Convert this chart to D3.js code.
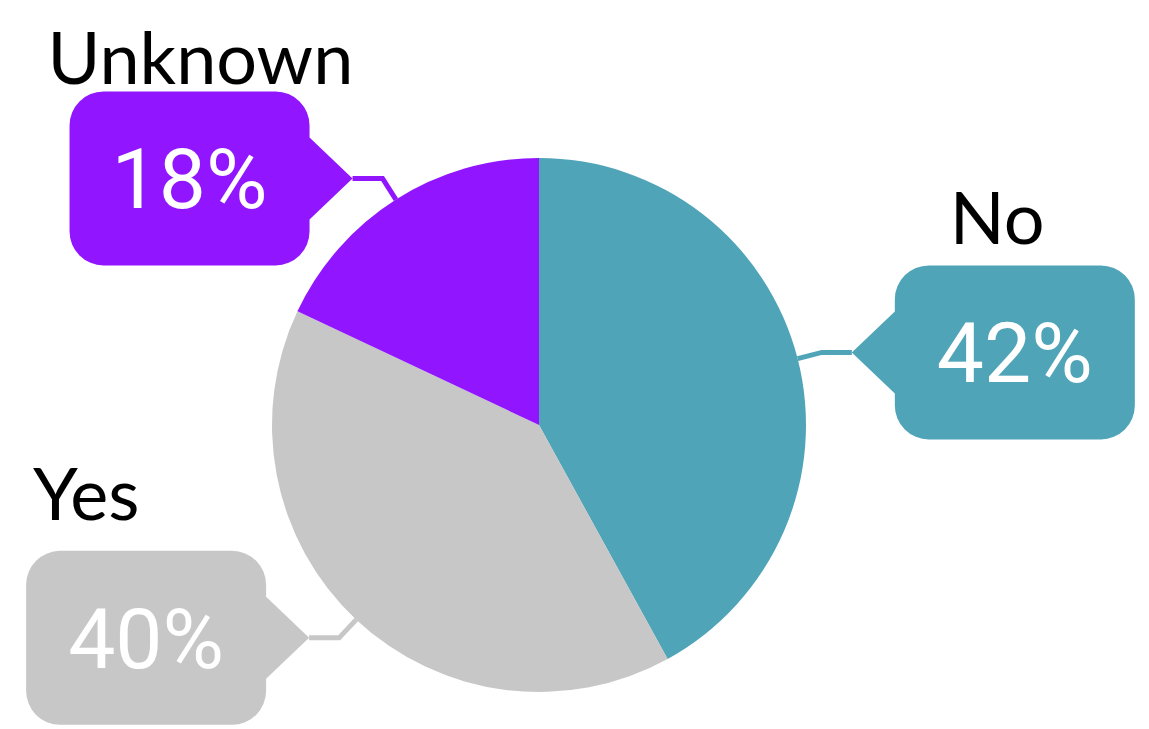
<!DOCTYPE html>
<html>
<head>
<meta charset="utf-8">
<script src="https://cdn.jsdelivr.net/npm/d3@7"></script>
<style>
  html, body { margin: 0; padding: 0; background: #fff; }
  svg { display: block; }
</style>
</head>
<body>
<svg id="chart" width="1149" height="729"></svg>
<script>
// Survey answers, shares in percent
const categories = ["No", "Yes", "Unknown"];
const shares = [42, 40, 18];
const colors = ["#50A4B8", "#C7C7C7", "#9116FF"];

const W = 1149, H = 729;
const cx = 539, cy = 425, R = 267;

// callout layout (box size, pointer, label text offsets)
const boxW = 240, boxH = 174, corner = 34, ptrDepth = 43, ptrHalf = 41;
const elbowOut = 25, tipGap = 30;
const labelOffset = {               // relative to box left / top
  "No":      { dx: 55, dy: -21 },
  "Yes":     { dx: 7,  dy: -31 },
  "Unknown": { dx: -22, dy: -7 }
};

const svg = d3.select("#chart");
const g = svg.append("g").attr("transform", `translate(${cx},${cy})`);

const data = categories.map((c, i) => ({ name: c, value: shares[i], color: colors[i] }));

const pie = d3.pie().value(d => d.value).sort(null);
const arcs = pie(data);
const arc = d3.arc().innerRadius(0).outerRadius(R);

g.selectAll("path.slice")
  .data(arcs)
  .join("path")
  .attr("class", "slice")
  .attr("d", arc)
  .attr("fill", d => d.data.color);

// point at radius r along the slice's middle angle
function polar(a, r) {
  return [r * Math.sin(a), -r * Math.cos(a)];
}

// rounded box with a triangular pointer on one side
function calloutPath(x, y, w, h, r, side) {
  const my = y + h / 2;
  const p = d3.path();
  p.moveTo(x + r, y);
  p.lineTo(x + w - r, y);
  p.arcTo(x + w, y, x + w, y + r, r);
  if (side === "right") {
    p.lineTo(x + w, my - ptrHalf);
    p.lineTo(x + w + ptrDepth, my);
    p.lineTo(x + w, my + ptrHalf);
  }
  p.lineTo(x + w, y + h - r);
  p.arcTo(x + w, y + h, x + w - r, y + h, r);
  p.lineTo(x + r, y + h);
  p.arcTo(x, y + h, x, y + h - r, r);
  if (side === "left") {
    p.lineTo(x, my + ptrHalf);
    p.lineTo(x - ptrDepth, my);
    p.lineTo(x, my - ptrHalf);
  }
  p.lineTo(x, y + r);
  p.arcTo(x, y, x + r, y, r);
  p.closePath();
  return p.toString();
}

const callouts = svg.append("g");

arcs.forEach(a => {
  const mid = (a.startAngle + a.endAngle) / 2;
  const [ex, ey] = polar(mid, R);
  const [bx, by] = polar(mid, R + elbowOut);
  const onRight = Math.sin(mid) > 0;
  const e = [cx + ex, cy + ey];
  const b = [cx + bx, cy + by];
  const tipX = b[0] + (onRight ? tipGap : -tipGap);
  const tip = [tipX, b[1]];

  callouts.append("path")
    .attr("d", d3.line()([e, b, tip]))
    .attr("fill", "none")
    .attr("stroke", a.data.color)
    .attr("stroke-width", 5);

  const boxX = onRight ? tipX + ptrDepth : tipX - ptrDepth - boxW;
  const boxY = b[1] - boxH / 2;

  callouts.append("path")
    .attr("d", calloutPath(boxX, boxY, boxW, boxH, corner, onRight ? "left" : "right"))
    .attr("fill", a.data.color);

  callouts.append("text")
    .attr("x", boxX + boxW / 2)
    .attr("y", b[1] + 30)
    .attr("text-anchor", "middle")
    .attr("font-family", "Roboto, 'Liberation Sans', sans-serif")
    .attr("font-size", 84)
    .attr("fill", "#fff")
    .text(a.data.value + "%");

  const off = labelOffset[a.data.name];
  callouts.append("text")
    .attr("x", boxX + off.dx)
    .attr("y", boxY + off.dy)
    .attr("font-family", "Lato, 'Open Sans', sans-serif")
    .attr("font-size", 72)
    .attr("fill", "#000")
    .text(a.data.name);
});
</script>
</body>
</html>
